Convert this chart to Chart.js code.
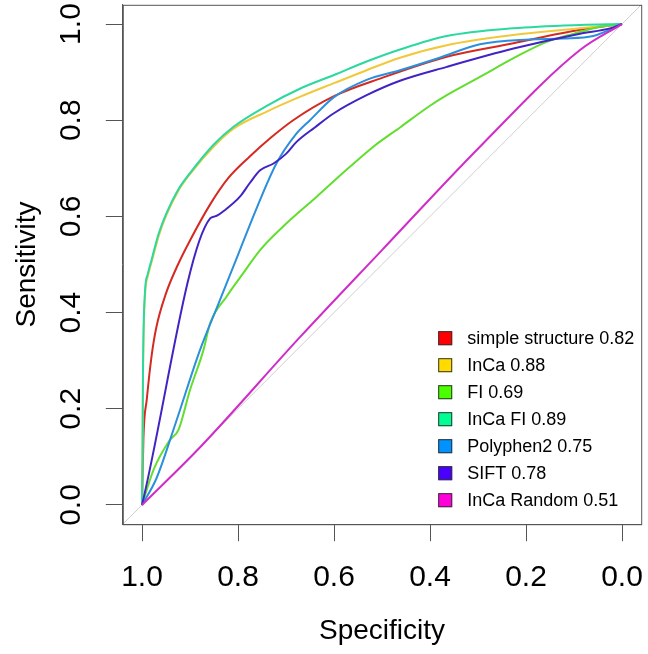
<!DOCTYPE html>
<html>
<head>
<meta charset="utf-8">
<script src="https://cdn.jsdelivr.net/npm/chart.js@4.4.1/dist/chart.umd.min.js"></script>
<style>
  html, body { margin: 0; padding: 0; background: #fff; }
  #wrap { width: 648px; height: 654px; }
</style>
</head>
<body>
<div id="wrap"><canvas id="roc-chart" width="648" height="654"></canvas></div>
<script>
// ROC curves: specificity (x, reversed) vs sensitivity (y)
const tickValues = [0, 0.2, 0.4, 0.6, 0.8, 1.0];

const seriesNames = [
  "simple structure 0.82",
  "InCa 0.88",
  "FI 0.69",
  "InCa FI 0.89",
  "Polyphen2 0.75",
  "SIFT 0.78",
  "InCa Random 0.51"
];
const legendColors = ["#FF0000", "#FFDB00", "#49FF00", "#00FF92", "#0092FF", "#4900FF", "#FF00DB"];
const lineColors = ["#d42a22", "#f0c93a", "#62de2e", "#2ad9a0", "#2b8fdc", "#4224c4", "#d02cc8"];

const simpleSpec = [1, .997, .99, .98, .97, .95, .925, .9, .858, .82, .775, .73, .685, .6, .5, .365, .226, .0875, 0];
const simpleSens = [0, .14, .22, .31, .37, .44, .50, .55, .625, .68, .725, .765, .80, .85, .888, .932, .96, .988, 1];

const incaSpec = [1, .999, .998, .994, .988, .98, .965, .949, .925, .9, .85, .81, .74, .67, .6, .532, .4625, .365, .227, .0875, 0];
const incaSens = [0, .09, .26, .43, .475, .505, .56, .603, .652, .688, .746, .782, .818, .849, .877, .904, .93, .956, .977, .991, 1];

const fiSpec = [1, .976, .942, .924, .9, .872, .858, .824, .789, .754, .706, .636, .567, .518, .4625, .4, .365, .296, .226, .157, .1, .053, 0];
const fiSens = [0, .073, .135, .156, .239, .322, .378, .433, .482, .53, .579, .641, .703, .745, .785, .83, .852, .89, .929, .963, .98, .993, 1];

const incaFiSpec = [1, .999, .998, .994, .988, .98, .965, .949, .925, .9, .85, .81, .74, .67, .6, .532, .4625, .365, .227, .0875, 0];
const incaFiSens = [0, .1, .27, .44, .48, .51, .565, .607, .655, .69, .75, .786, .83, .866, .894, .922, .947, .975, .991, .998, 1];

const polySpec = [1, .97, .93, .88, .84, .8, .76, .72, .68, .65, .6, .532, .4625, .38, .296, .192, .123, .06, 0];
const polySens = [0, .055, .17, .32, .42, .52, .62, .71, .77, .80, .848, .884, .904, .93, .958, .968, .97, .975, 1];

const siftSpec = [1, .858, .848, .825, .796, .775, .754, .726, .7, .678, .64, .601, .532, .4625, .365, .226, .0875, .025, 0];
const siftSens = [0, .596, .60, .615, .641, .67, .696, .71, .73, .755, .785, .814, .852, .882, .911, .949, .98, .991, 1];

const randomSpec = [1, .879, .67, .5, .296, .0875, 0];
const randomSens = [0, .12, .35, .53, .745, .946, 1];

const diagSpec = [1.04, -0.04];
const diagSens = [-0.04, 1.04];

const specSeries = [simpleSpec, incaSpec, fiSpec, incaFiSpec, polySpec, siftSpec, randomSpec];
const sensSeries = [simpleSens, incaSens, fiSens, incaFiSens, polySens, siftSens, randomSens];

function toPoints(xs, ys) {
  return xs.map((x, i) => ({ x: x, y: ys[i] }));
}

const datasets = seriesNames.map((name, i) => ({
  label: name,
  data: toPoints(specSeries[i], sensSeries[i]),
  borderColor: lineColors[i],
  backgroundColor: legendColors[i],
  borderWidth: 2,
  pointRadius: 0,
  showLine: true,
  cubicInterpolationMode: 'monotone',
  order: seriesNames.length - i
}));
datasets.push({
  label: 'diagonal',
  data: toPoints(diagSpec, diagSens),
  borderColor: '#cfcfcf',
  borderWidth: 1,
  pointRadius: 0,
  showLine: true,
  order: 100
});

const FONT = "'Liberation Sans', Arial, sans-serif";

// box around plot, rotated y tick labels (R style) and bottomright legend
const framePlugin = {
  id: 'frame',
  afterDatasetsDraw(chart) {
    const { ctx, chartArea: a } = chart;
    ctx.save();
    ctx.strokeStyle = '#555';
    ctx.lineWidth = 1;
    ctx.strokeRect(a.left + 0.5, a.top + 0.5, a.right - a.left, a.bottom - a.top);

    const yScale = chart.scales.y;
    ctx.fillStyle = '#000';
    ctx.font = "30px " + FONT;
    ctx.textAlign = 'center';
    ctx.textBaseline = 'alphabetic';
    tickValues.forEach(v => {
      ctx.save();
      ctx.translate(80, yScale.getPixelForValue(v));
      ctx.rotate(-Math.PI / 2);
      ctx.fillText(v.toFixed(1), 0, 0);
      ctx.restore();
    });

    const x0 = a.right - 203;
    const yLast = a.bottom - 24;
    const pitch = 27;
    ctx.font = "18px " + FONT;
    ctx.textBaseline = 'middle';
    ctx.textAlign = 'left';
    seriesNames.forEach((name, i) => {
      const cy = yLast - (seriesNames.length - 1 - i) * pitch;
      ctx.fillStyle = legendColors[i];
      ctx.fillRect(x0, cy - 7, 14, 14);
      ctx.strokeStyle = '#333';
      ctx.strokeRect(x0 + 0.5, cy - 6.5, 13, 13);
      ctx.fillStyle = '#000';
      ctx.fillText(name, x0 + 29, cy + 1);
    });
    ctx.restore();
  }
};

new Chart("roc-chart", {
  type: "scatter",
  data: { datasets: datasets },
  options: {
    responsive: false,
    animation: false,
    layout: { padding: { top: 4.8, right: 6.8, left: 0, bottom: 0 } },
    plugins: {
      legend: { display: false },
      tooltip: { enabled: false }
    },
    scales: {
      x: {
        type: 'linear',
        reverse: true,
        min: -0.04,
        max: 1.04,
        afterBuildTicks: (scale) => { scale.ticks = tickValues.map(v => ({ value: v })); },
        afterFit: (scale) => { scale.height = 129.8; },
        grid: { drawOnChartArea: false, drawTicks: true, tickLength: 17, color: '#555' },
        border: { display: true, color: '#555' },
        ticks: {
          font: { size: 30, family: FONT },
          color: '#000',
          padding: 19,
          maxRotation: 0,
          callback: (v) => Number(v).toFixed(1)
        },
        title: {
          display: true,
          text: 'Specificity',
          font: { size: 28, family: FONT },
          color: '#000',
          padding: { top: 0, bottom: 6 }
        }
      },
      y: {
        type: 'linear',
        min: -0.04,
        max: 1.04,
        afterBuildTicks: (scale) => { scale.ticks = tickValues.map(v => ({ value: v })); },
        afterFit: (scale) => { scale.width = 122.8; },
        grid: { drawOnChartArea: false, drawTicks: true, tickLength: 17, color: '#555' },
        border: { display: true, color: '#555' },
        ticks: {
          display: false
        },
        title: {
          display: true,
          text: 'Sensitivity',
          font: { size: 28, family: FONT },
          color: '#000',
          padding: { top: 10, bottom: 0 }
        }
      }
    }
  },
  plugins: [framePlugin]
});
</script>
</body>
</html>
